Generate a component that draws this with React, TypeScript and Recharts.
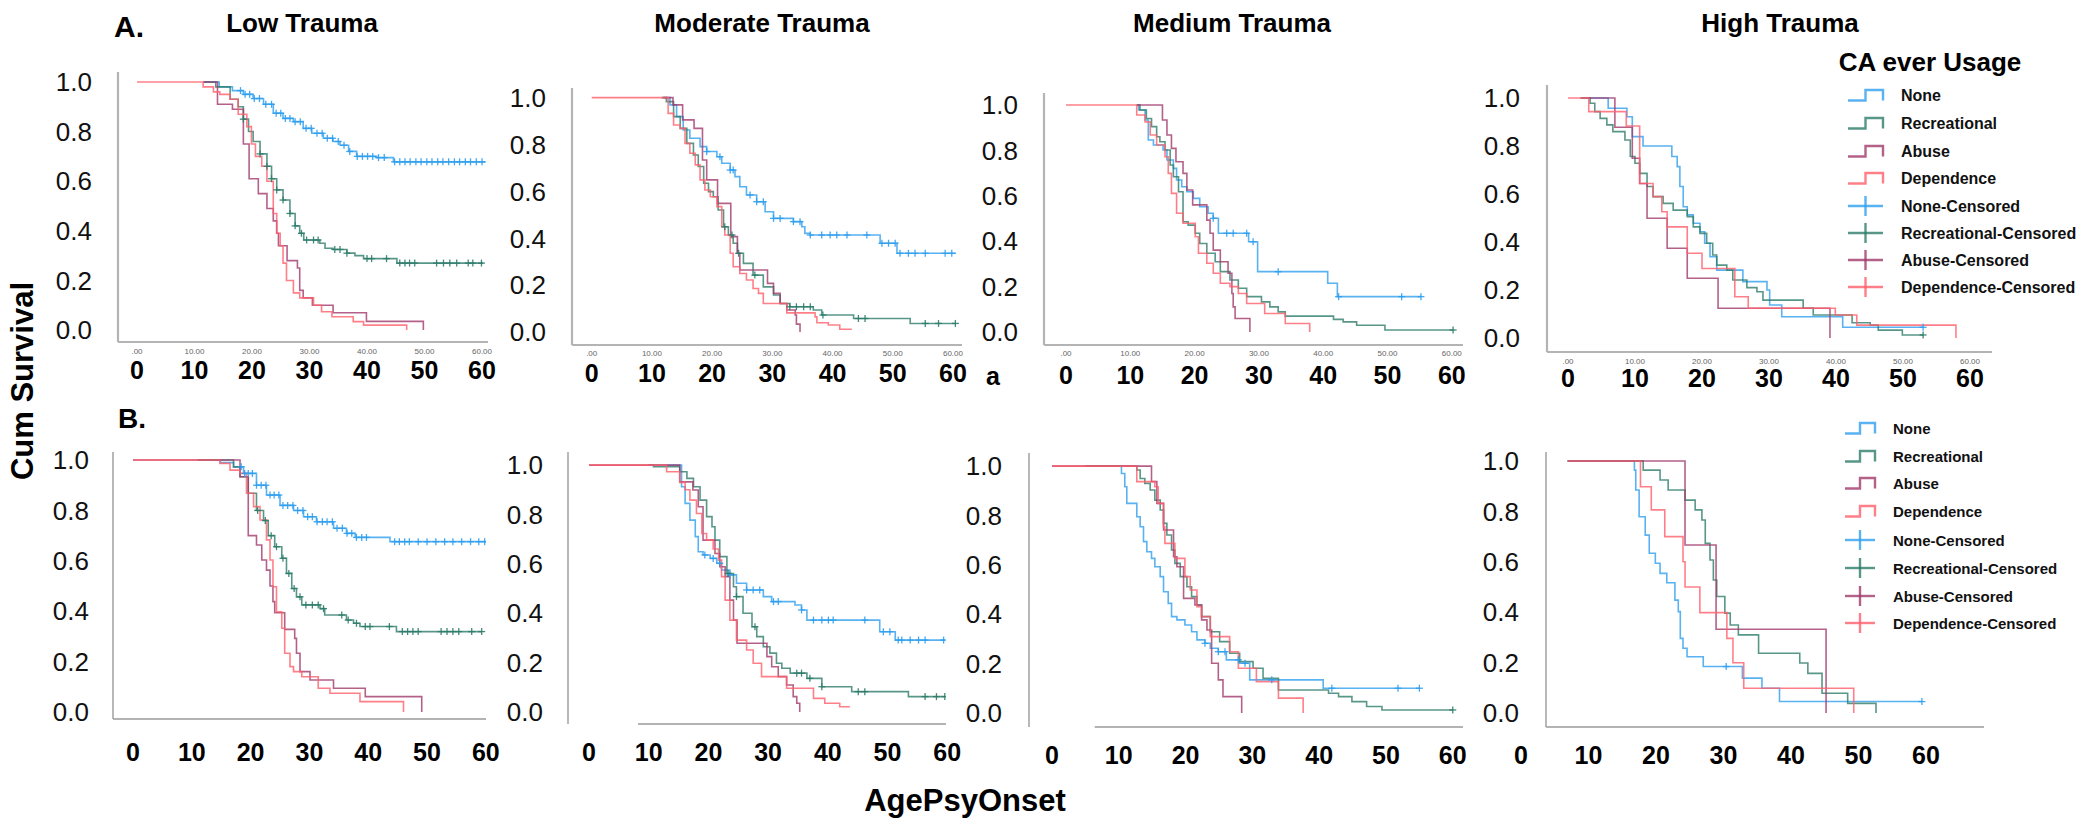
import React from 'react';
import { ComposedChart, Line, Scatter, XAxis, YAxis, ReferenceLine } from 'recharts';

const FONT = '"Liberation Sans", Arial, Helvetica, sans-serif';
const C_NONE = '#2f9fee';
const C_REC = '#2e7c6a';
const C_ABUSE = '#a03a6b';
const C_DEP = '#ff5f6b';

const xTickValues = [0, 10, 20, 30, 40, 50, 60];
const yTickValues = [0, 0.2, 0.4, 0.6, 0.8, 1.0];
const panelTitles = ['Low Trauma', 'Moderate Trauma', 'Medium Trauma', 'High Trauma'];
const legendLabels = ['None', 'Recreational', 'Abuse', 'Dependence', 'None-Censored', 'Recreational-Censored', 'Abuse-Censored', 'Dependence-Censored'];

// ---------- A. Low Trauma ----------
const a1NoneAge = [11.6, 14.3, 16.6, 18.5, 20.2, 22.0, 23.7, 25.4, 27.2, 28.9, 30.4, 32.4, 34.1, 35.3, 36.8, 38.2, 41.7, 44.6, 60.6];
const a1NoneSurv = [1, 0.98, 0.965, 0.95, 0.933, 0.91, 0.874, 0.853, 0.84, 0.813, 0.793, 0.773, 0.76, 0.745, 0.72, 0.70, 0.695, 0.678, 0.678];
const a1NoneCens = [18.0, 18.8, 19.6, 20.4, 21.3, 22.4, 23.4, 24.2, 25.0, 25.8, 26.6, 27.5, 28.4, 29.4, 30.3, 31.3, 32.2, 33.1, 34.0, 35.0, 36.0, 37.0, 38.3, 39.2, 40.1, 41.0, 42.0, 43.0, 44.8, 45.7, 46.6, 47.5, 48.5, 49.4, 50.4, 51.3, 52.3, 53.2, 54.2, 55.2, 56.1, 57.1, 58.0, 59.0, 60.0];
const a1RecAge = [11.6, 13.7, 16.2, 17.6, 18.5, 19.4, 20.2, 21.4, 22.6, 23.4, 24.3, 25.4, 26.6, 27.5, 28.3, 29.0, 31.8, 32.7, 34.1, 36.5, 37.9, 39.4, 45.2, 60.2];
const a1RecSurv = [1, 0.98, 0.93, 0.90, 0.85, 0.80, 0.76, 0.71, 0.66, 0.61, 0.565, 0.524, 0.47, 0.42, 0.39, 0.363, 0.35, 0.33, 0.325, 0.31, 0.30, 0.288, 0.27, 0.27];
const a1RecCens = [18.5, 21.4, 22.6, 23.4, 24.3, 25.4, 26.6, 27.5, 28.6, 29.5, 30.7, 31.5, 34.4, 35.3, 36.5, 40.0, 40.8, 43.4, 45.7, 46.6, 47.4, 48.3, 52.1, 53.3, 54.4, 55.6, 57.6, 58.4, 59.9];
const a1AbuseAge = [11.5, 14.0, 16.6, 18.5, 19.5, 21.1, 22.6, 23.7, 24.3, 24.6, 26.1, 27.9, 28.3, 28.9, 30.5, 34.1, 39.9, 49.8];
const a1AbuseSurv = [1, 0.91, 0.89, 0.75, 0.61, 0.55, 0.49, 0.44, 0.39, 0.34, 0.28, 0.25, 0.16, 0.13, 0.10, 0.07, 0.035, 0];
const a1DepAge = [0, 11.5, 13.3, 14.4, 16.2, 17.6, 19.1, 19.9, 20.6, 21.7, 22.6, 23.7, 24.3, 24.9, 25.4, 26.0, 27.2, 28.3, 30.7, 32.1, 33.9, 37.6, 39.4, 46.9];
const a1DepSurv = [1, 0.98, 0.96, 0.95, 0.93, 0.87, 0.82, 0.75, 0.70, 0.66, 0.60, 0.47, 0.39, 0.34, 0.27, 0.20, 0.15, 0.13, 0.10, 0.074, 0.054, 0.034, 0.02, 0];

// ---------- A. Moderate Trauma ----------
const a2NoneAge = [11.9, 13.0, 14.1, 15.2, 16.3, 18.0, 19.1, 20.8, 21.6, 23.0, 23.8, 24.6, 25.7, 27.4, 28.8, 30.2, 33.5, 34.9, 35.4, 36.3, 47.9, 50.7, 60.5];
const a2NoneSurv = [1, 0.969, 0.919, 0.862, 0.827, 0.791, 0.77, 0.748, 0.72, 0.691, 0.663, 0.62, 0.585, 0.556, 0.513, 0.485, 0.471, 0.449, 0.421, 0.414, 0.379, 0.336, 0.336];
const a2NoneCens = [19.1, 21.3, 23.0, 23.5, 26.3, 27.4, 28.5, 30.2, 31.3, 33.5, 34.6, 36.3, 38.2, 39.6, 40.7, 42.4, 45.7, 48.2, 49.3, 50.4, 51.2, 52.6, 53.7, 55.4, 58.7, 59.8];
const a2RecAge = [11.6, 12.4, 13.6, 14.7, 15.8, 16.9, 17.7, 18.6, 19.4, 20.2, 21.0, 21.9, 22.7, 23.5, 24.2, 25.2, 26.8, 28.5, 30.2, 31.3, 32.9, 36.8, 38.2, 43.5, 52.9, 60.5];
const a2RecSurv = [1, 0.983, 0.919, 0.869, 0.805, 0.755, 0.706, 0.635, 0.599, 0.577, 0.521, 0.449, 0.414, 0.379, 0.336, 0.293, 0.243, 0.193, 0.158, 0.122, 0.108, 0.094, 0.073, 0.058, 0.037, 0.037];
const a2RecCens = [22.1, 23.3, 24.4, 27.1, 32.9, 34.0, 35.2, 36.3, 38.4, 44.3, 45.4, 55.4, 57.6, 60.4];
const a2AbuseAge = [11.9, 13.5, 15.1, 17.0, 18.4, 19.1, 20.9, 23.1, 24.2, 24.6, 29.2, 30.2, 31.3, 32.4, 33.8, 34.0, 34.6];
const a2AbuseSurv = [1, 0.969, 0.905, 0.869, 0.734, 0.649, 0.549, 0.407, 0.336, 0.265, 0.208, 0.165, 0.122, 0.094, 0.073, 0.034, 0];
const a2DepAge = [0, 12.7, 13.6, 14.7, 15.5, 16.3, 17.2, 18.0, 18.8, 19.7, 20.8, 21.6, 22.1, 23.0, 23.5, 24.6, 25.7, 26.8, 27.7, 28.5, 32.4, 37.1, 37.4, 39.3, 41.2, 43.2];
const a2DepSurv = [1, 0.933, 0.883, 0.869, 0.805, 0.763, 0.713, 0.649, 0.606, 0.577, 0.535, 0.449, 0.414, 0.336, 0.279, 0.25, 0.222, 0.186, 0.165, 0.122, 0.082, 0.065, 0.04, 0.03, 0.012, 0.012];

// ---------- A. Medium Trauma ----------
const a3NoneAge = [11.0, 11.3, 12.3, 12.8, 13.6, 15.1, 15.7, 16.7, 17.2, 18.0, 18.8, 19.8, 20.8, 22.1, 22.9, 23.7, 28.4, 29.8, 40.7, 42.2, 55.2];
const a3NoneSurv = [1, 0.978, 0.934, 0.846, 0.824, 0.802, 0.758, 0.721, 0.67, 0.64, 0.618, 0.589, 0.552, 0.523, 0.501, 0.435, 0.398, 0.266, 0.215, 0.156, 0.156];
const a3NoneCens = [22.9, 25.0, 26.0, 28.1, 29.1, 33.0, 42.4, 52.2, 55.2];
const a3RecAge = [11.0, 11.5, 12.5, 13.3, 14.1, 14.6, 15.4, 16.2, 16.7, 17.5, 18.2, 19.0, 20.1, 20.8, 21.9, 23.2, 24.0, 25.5, 26.8, 28.1, 30.4, 31.7, 33.0, 34.1, 41.6, 43.1, 45.2, 49.6, 60.2];
const a3RecSurv = [1, 0.978, 0.941, 0.905, 0.86, 0.838, 0.802, 0.736, 0.684, 0.618, 0.486, 0.471, 0.435, 0.39, 0.347, 0.31, 0.266, 0.229, 0.193, 0.156, 0.133, 0.111, 0.089, 0.07, 0.056, 0.045, 0.03, 0.009, 0.009];
const a3RecCens = [60.2];
const a3AbuseAge = [11.0, 15.0, 15.7, 16.4, 17.1, 18.2, 18.8, 19.7, 21.9, 22.4, 22.9, 24.0, 25.2, 25.8, 26.0, 26.3, 28.6];
const a3AbuseSurv = [1, 0.934, 0.868, 0.809, 0.75, 0.699, 0.626, 0.56, 0.493, 0.435, 0.361, 0.31, 0.259, 0.17, 0.111, 0.06, 0];
const a3DepAge = [0, 11.0, 12.3, 13.1, 14.1, 15.4, 15.9, 16.4, 17.2, 18.2, 20.1, 20.6, 21.9, 22.9, 24.0, 25.5, 26.8, 28.1, 30.9, 34.1, 37.9];
const a3DepSurv = [1, 0.956, 0.926, 0.868, 0.824, 0.772, 0.699, 0.611, 0.523, 0.479, 0.42, 0.347, 0.303, 0.259, 0.215, 0.2, 0.17, 0.126, 0.082, 0.038, 0];

// ---------- A. High Trauma ----------
const a4NoneAge = [3.0, 6.0, 8.8, 9.6, 11.2, 15.5, 16.3, 16.7, 17.2, 17.8, 18.7, 19.7, 20.4, 21.2, 22.2, 26.1, 29.7, 30.1, 31.9, 41.0, 53.0];
const a4NoneSurv = [1, 0.957, 0.922, 0.839, 0.8, 0.756, 0.714, 0.631, 0.547, 0.513, 0.478, 0.443, 0.395, 0.339, 0.283, 0.235, 0.2, 0.138, 0.089, 0.045, 0.045];
const a4NoneCens = [53.0];
const a4RecAge = [1.8, 3.3, 4.0, 4.8, 5.8, 6.7, 8.5, 9.3, 10.0, 10.7, 11.8, 12.7, 14.2, 15.7, 17.8, 18.7, 19.7, 20.7, 21.6, 22.2, 23.7, 24.6, 26.7, 28.2, 29.1, 35.1, 36.6, 42.4, 45.1, 46.3, 49.9, 53.0];
const a4RecSurv = [1, 0.978, 0.943, 0.915, 0.888, 0.86, 0.825, 0.756, 0.728, 0.686, 0.631, 0.589, 0.561, 0.533, 0.506, 0.463, 0.436, 0.395, 0.346, 0.304, 0.283, 0.242, 0.21, 0.193, 0.158, 0.124, 0.096, 0.064, 0.054, 0.033, 0.013, 0.013];
const a4RecCens = [53.0];
const a4AbuseAge = [2.0, 7.0, 9.6, 10.7, 11.8, 14.8, 17.8, 22.4, 39.1];
const a4AbuseSurv = [1, 0.878, 0.749, 0.644, 0.499, 0.374, 0.249, 0.124, 0];
const a4DepAge = [0, 3.1, 8.7, 10.7, 12.7, 14.0, 14.8, 17.8, 20.0, 24.9, 26.9, 39.9, 43.1, 57.9];
const a4DepSurv = [1, 0.943, 0.883, 0.644, 0.589, 0.526, 0.463, 0.353, 0.29, 0.172, 0.124, 0.096, 0.054, 0];

// ---------- B. Low Trauma ----------
const b1NoneAge = [11.0, 14.8, 17.1, 18.8, 21.0, 22.7, 25.0, 27.3, 29.0, 31.2, 34.1, 36.3, 37.8, 43.7, 60.0];
const b1NoneSurv = [1, 0.99, 0.973, 0.947, 0.90, 0.861, 0.82, 0.80, 0.775, 0.755, 0.729, 0.709, 0.693, 0.676, 0.676];
const b1NoneCens = [18.4, 19.0, 19.6, 20.3, 21.0, 21.8, 22.6, 23.3, 24.0, 24.8, 25.5, 26.3, 27.2, 28.0, 28.9, 29.7, 30.5, 31.3, 32.2, 33.0, 33.9, 34.7, 35.6, 36.4, 37.2, 38.0, 38.9, 39.7, 44.5, 45.3, 46.2, 47.0, 48.5, 50.0, 51.5, 53.0, 54.4, 55.9, 57.4, 58.8, 59.8];
const b1RecAge = [11.0, 17.1, 18.2, 19.6, 21.0, 22.2, 23.0, 24.1, 25.3, 26.1, 27.0, 27.8, 28.7, 31.8, 32.6, 36.3, 37.5, 38.6, 44.8, 59.3];
const b1RecSurv = [1, 0.973, 0.934, 0.868, 0.80, 0.76, 0.70, 0.656, 0.61, 0.55, 0.49, 0.457, 0.425, 0.41, 0.385, 0.365, 0.352, 0.339, 0.319, 0.319];
const b1RecCens = [21.2, 22.5, 23.5, 24.4, 25.5, 26.5, 27.4, 28.4, 29.4, 30.5, 31.5, 32.4, 35.5, 36.6, 38.0, 39.5, 40.3, 43.6, 45.8, 46.7, 47.6, 48.5, 52.4, 53.4, 54.4, 55.4, 57.6, 59.3];
const b1AbuseAge = [0, 18.2, 19.6, 21.0, 21.9, 22.7, 23.3, 23.8, 24.1, 25.8, 27.5, 27.8, 28.4, 30.1, 34.1, 39.5, 49.1];
const b1AbuseSurv = [1, 0.934, 0.70, 0.663, 0.603, 0.563, 0.50, 0.438, 0.394, 0.328, 0.292, 0.233, 0.16, 0.127, 0.094, 0.061, 0];
const b1DepAge = [0, 14.8, 16.5, 18.2, 19.3, 20.5, 21.6, 22.7, 23.3, 23.8, 24.4, 25.3, 25.8, 26.7, 27.3, 28.7, 31.5, 33.5, 38.6, 46.0];
const b1DepSurv = [1, 0.987, 0.96, 0.947, 0.868, 0.815, 0.762, 0.683, 0.603, 0.497, 0.398, 0.332, 0.233, 0.18, 0.16, 0.14, 0.094, 0.074, 0.041, 0];

// ---------- B. Moderate Trauma ----------
const b2NoneAge = [10.0, 15.5, 16.1, 16.9, 17.8, 18.3, 19.1, 20.3, 21.4, 22.2, 23.6, 24.7, 26.4, 29.2, 30.6, 34.5, 35.6, 36.5, 48.7, 51.3, 59.6];
const b2NoneSurv = [1, 0.912, 0.845, 0.777, 0.71, 0.649, 0.636, 0.622, 0.602, 0.575, 0.555, 0.521, 0.494, 0.467, 0.447, 0.433, 0.413, 0.372, 0.325, 0.291, 0.291];
const b2NoneCens = [19.4, 20.8, 21.9, 23.6, 26.4, 27.5, 28.6, 30.9, 31.7, 35.6, 37.6, 39.0, 40.1, 40.9, 46.2, 49.3, 50.4, 51.8, 52.4, 53.8, 55.2, 56.3, 59.4];
const b2RecAge = [10.0, 10.8, 15.2, 16.4, 17.5, 18.6, 19.7, 20.6, 21.1, 21.9, 23.1, 24.2, 24.7, 25.8, 27.3, 28.1, 29.2, 30.3, 31.4, 32.3, 33.7, 36.5, 39.0, 44.0, 53.5, 59.6];
const b2RecSurv = [1, 0.993, 0.973, 0.946, 0.912, 0.858, 0.791, 0.75, 0.696, 0.629, 0.561, 0.507, 0.467, 0.40, 0.345, 0.305, 0.264, 0.238, 0.197, 0.177, 0.157, 0.136, 0.102, 0.082, 0.062, 0.062];
const b2RecCens = [23.3, 24.7, 27.8, 34.8, 35.6, 37.0, 39.0, 45.1, 46.2, 56.3, 58.2, 59.6];
const b2AbuseAge = [0, 15.2, 17.4, 18.3, 19.1, 21.1, 21.9, 22.8, 23.6, 24.2, 24.8, 29.8, 30.6, 31.7, 33.1, 34.2, 34.8, 35.3];
const b2AbuseSurv = [1, 0.932, 0.899, 0.831, 0.696, 0.642, 0.588, 0.548, 0.453, 0.372, 0.278, 0.224, 0.183, 0.143, 0.109, 0.062, 0.035, 0];
const b2DepAge = [0, 13.0, 15.2, 16.1, 16.9, 18.0, 18.9, 19.7, 20.8, 21.7, 22.2, 22.8, 23.6, 24.7, 26.4, 27.5, 28.9, 33.1, 37.6, 39.5, 42.0, 43.7];
const b2DepSurv = [1, 0.973, 0.93, 0.9, 0.858, 0.804, 0.723, 0.696, 0.66, 0.615, 0.548, 0.453, 0.372, 0.291, 0.251, 0.197, 0.143, 0.096, 0.055, 0.035, 0.021, 0.021];

// ---------- B. Medium Trauma ----------
const b3NoneAge = [5.0, 10.4, 10.9, 11.2, 12.7, 13.2, 13.7, 14.2, 14.9, 15.4, 16.2, 16.7, 17.4, 17.9, 18.7, 19.9, 20.9, 21.7, 22.9, 23.7, 24.9, 26.1, 28.1, 29.6, 40.6, 55.0];
const b3NoneSurv = [1, 0.97, 0.916, 0.849, 0.795, 0.754, 0.694, 0.653, 0.626, 0.592, 0.552, 0.491, 0.444, 0.39, 0.377, 0.356, 0.329, 0.296, 0.282, 0.262, 0.248, 0.215, 0.201, 0.134, 0.1, 0.1];
const b3NoneCens = [22.9, 24.9, 25.9, 27.9, 28.9, 32.9, 41.9, 51.8, 55.0];
const b3RecAge = [5.0, 12.7, 13.2, 13.9, 14.7, 15.4, 16.2, 16.7, 17.2, 17.9, 18.4, 19.2, 20.2, 20.9, 21.7, 22.4, 23.7, 25.1, 26.6, 28.1, 30.1, 31.6, 33.9, 41.4, 42.9, 44.9, 47.1, 49.4, 60.0];
const b3RecSurv = [1, 0.984, 0.95, 0.93, 0.903, 0.862, 0.822, 0.768, 0.721, 0.66, 0.606, 0.552, 0.511, 0.471, 0.437, 0.39, 0.329, 0.289, 0.242, 0.208, 0.181, 0.14, 0.093, 0.08, 0.066, 0.046, 0.026, 0.012, 0.012];
const b3RecCens = [60.0];
const b3AbuseAge = [0, 14.9, 15.7, 16.7, 18.2, 18.7, 19.7, 21.4, 22.4, 23.2, 23.9, 24.9, 25.6, 28.4];
const b3AbuseSurv = [1, 0.937, 0.849, 0.741, 0.633, 0.592, 0.464, 0.437, 0.377, 0.336, 0.201, 0.134, 0.066, 0];
const b3DepAge = [0, 12.7, 15.4, 15.9, 16.7, 16.9, 18.4, 19.9, 20.7, 21.7, 22.4, 23.7, 26.6, 27.9, 30.6, 33.9, 37.6];
const b3DepSurv = [1, 0.937, 0.916, 0.849, 0.754, 0.687, 0.626, 0.552, 0.498, 0.43, 0.39, 0.309, 0.248, 0.181, 0.127, 0.06, 0];

// ---------- B. High Trauma ----------
const b4NoneAge = [6.9, 16.8, 17.0, 17.5, 18.4, 19.0, 19.9, 20.6, 21.6, 22.8, 23.3, 23.6, 24.0, 24.6, 27.0, 32.8, 35.7, 38.3, 59.4];
const b4NoneSurv = [1, 0.964, 0.885, 0.779, 0.706, 0.634, 0.594, 0.554, 0.517, 0.448, 0.402, 0.296, 0.257, 0.223, 0.184, 0.138, 0.098, 0.045, 0.045];
const b4NoneCens = [30.4, 59.4];
const b4RecAge = [6.9, 18.1, 20.6, 21.8, 24.3, 25.8, 26.8, 27.3, 28.0, 28.5, 29.0, 30.2, 31.0, 32.2, 35.2, 41.3, 42.5, 44.6, 48.4, 52.6];
const b4RecSurv = [1, 0.964, 0.925, 0.885, 0.845, 0.806, 0.766, 0.673, 0.607, 0.528, 0.462, 0.396, 0.349, 0.31, 0.237, 0.198, 0.157, 0.078, 0.038, 0];
const b4AbuseAge = [6.9, 24.3, 28.9, 45.2];
const b4AbuseSurv = [1, 0.667, 0.332, 0];
const b4DepAge = [6.9, 17.7, 19.3, 21.3, 24.0, 24.3, 26.5, 30.5, 31.4, 33.0, 49.3];
const b4DepSurv = [1, 0.898, 0.806, 0.70, 0.60, 0.50, 0.398, 0.296, 0.199, 0.098, 0];

type Curve = { age: number[]; surv: number[]; cens?: number[]; color: string };

function stepAt(ages: number[], surv: number[], a: number) {
  let v = surv[0];
  for (let i = 0; i < ages.length; i++) if (ages[i] <= a) v = surv[i];
  return v;
}

function curves(n: [number[], number[], number[]?], r: [number[], number[], number[]?], ab: [number[], number[]], d: [number[], number[]]): Curve[] {
  return [
    { age: n[0], surv: n[1], cens: n[2], color: C_NONE },
    { age: r[0], surv: r[1], cens: r[2], color: C_REC },
    { age: ab[0], surv: ab[1], color: C_ABUSE },
    { age: d[0], surv: d[1], color: C_DEP },
  ];
}

type PanelCfg = {
  key: string;
  plot: [number, number, number, number];
  xDom: [number, number];
  yDom: [number, number];
  rowA: boolean;
  bigDy: number;
  smallDy?: number;
  yMargin: number;
  xSeg?: [number, number];
  ySegX?: number;
  data: Curve[];
};

const panels: PanelCfg[] = [
  { key: 'A1', plot: [118, 72, 488, 342], xDom: [-3.3, 61.04], yDom: [-0.048, 1.04], rowA: true, bigDy: 28, smallDy: 9, yMargin: 26,
    data: curves([a1NoneAge, a1NoneSurv, a1NoneCens], [a1RecAge, a1RecSurv, a1RecCens], [a1AbuseAge, a1AbuseSurv], [a1DepAge, a1DepSurv]) },
  { key: 'A2', plot: [572, 88, 962, 345], xDom: [-3.27, 61.5], yDom: [-0.055, 1.041], rowA: true, bigDy: 28, smallDy: 8, yMargin: 26,
    data: curves([a2NoneAge, a2NoneSurv, a2NoneCens], [a2RecAge, a2RecSurv, a2RecCens], [a2AbuseAge, a2AbuseSurv], [a2DepAge, a2DepSurv]) },
  { key: 'A3', plot: [1044, 93, 1463, 345], xDom: [-3.42, 61.74], yDom: [-0.057, 1.053], rowA: true, bigDy: 30, smallDy: 8, yMargin: 26,
    data: curves([a3NoneAge, a3NoneSurv, a3NoneCens], [a3RecAge, a3RecSurv, a3RecCens], [a3AbuseAge, a3AbuseSurv], [a3DepAge, a3DepSurv]) },
  { key: 'A4', plot: [1547, 85, 1992, 352], xDom: [-3.13, 63.28], yDom: [-0.058, 1.054], rowA: true, bigDy: 26, smallDy: 9, yMargin: 27,
    data: curves([a4NoneAge, a4NoneSurv, a4NoneCens], [a4RecAge, a4RecSurv, a4RecCens], [a4AbuseAge, a4AbuseSurv], [a4DepAge, a4DepSurv]) },
  { key: 'B1', plot: [113, 452, 486, 719], xDom: [-3.4, 60.03], yDom: [-0.028, 1.032], rowA: false, bigDy: 33, yMargin: 24,
    data: curves([b1NoneAge, b1NoneSurv, b1NoneCens], [b1RecAge, b1RecSurv, b1RecCens], [b1AbuseAge, b1AbuseSurv], [b1DepAge, b1DepSurv]) },
  { key: 'B2', plot: [568, 452, 946, 724], xDom: [-3.52, 59.8], yDom: [-0.049, 1.053], rowA: false, bigDy: 28, yMargin: 25, xSeg: [8.2, 59.8],
    data: curves([b2NoneAge, b2NoneSurv, b2NoneCens], [b2RecAge, b2RecSurv, b2RecCens], [b2AbuseAge, b2AbuseSurv], [b2DepAge, b2DepSurv]) },
  { key: 'B3', plot: [1029, 453, 1463, 727], xDom: [-3.44, 61.53], yDom: [-0.057, 1.053], rowA: false, bigDy: 28, yMargin: 27, xSeg: [6.4, 61.53],
    data: curves([b3NoneAge, b3NoneSurv, b3NoneCens], [b3RecAge, b3RecSurv, b3RecCens], [b3AbuseAge, b3AbuseSurv], [b3DepAge, b3DepSurv]) },
  { key: 'B4', plot: [1519, 452, 1984, 727], xDom: [-0.3, 68.6], yDom: [-0.056, 1.036], rowA: false, bigDy: 28, yMargin: 0, xSeg: [3.7, 68.6], ySegX: 3.7,
    data: curves([b4NoneAge, b4NoneSurv, b4NoneCens], [b4RecAge, b4RecSurv], [b4AbuseAge, b4AbuseSurv], [b4DepAge, b4DepSurv]) },
];

const YW = 120;
const TM = 22;
const RM = 34;
const XH = 60;

function Panel({ cfg }: { cfg: PanelCfg }) {
  const [L, T, R, B] = cfg.plot;
  const axisColor = cfg.rowA ? '#b4b4b4' : '#9a9a9a';
  const axisW = cfg.rowA ? 2.2 : 1.4;
  const xTick = (p: any) => {
    const v = p.payload.value;
    return (
      <g>
        {cfg.rowA && (
          <text x={p.x} y={p.y + (cfg.smallDy || 9)} textAnchor="middle" dominantBaseline="central" fontSize={8} fill="#666" fontFamily={FONT}>
            {v === 0 ? '.00' : v.toFixed(2)}
          </text>
        )}
        <text x={p.x} y={p.y + cfg.bigDy} textAnchor="middle" dominantBaseline="central" fontSize={25} fontWeight="bold" fill="#000" fontFamily={FONT}>
          {v}
        </text>
      </g>
    );
  };
  return (
    <div style={{ position: 'absolute', left: L - YW, top: T - TM }}>
      <ComposedChart width={YW + (R - L) + RM} height={TM + (B - T) + XH} margin={{ top: TM, right: RM, bottom: 0, left: 0 }}>
        <XAxis type="number" dataKey="x" domain={cfg.xDom} ticks={xTickValues} interval={0} allowDataOverflow
          tickSize={0} tickMargin={0} tickLine={false} height={XH}
          axisLine={cfg.xSeg ? false : { stroke: axisColor, strokeWidth: axisW }} tick={xTick} />
        <YAxis type="number" dataKey="y" domain={cfg.yDom} ticks={yTickValues} interval={0} allowDataOverflow
          tickSize={0} tickMargin={cfg.yMargin} tickLine={false} width={YW}
          axisLine={cfg.ySegX !== undefined ? false : { stroke: axisColor, strokeWidth: axisW }}
          tickFormatter={(v: number) => v.toFixed(1)}
          tick={{ fontSize: 26, fill: '#111', fontFamily: FONT }} />
        {cfg.xSeg && (
          <ReferenceLine ifOverflow="visible" stroke={axisColor} strokeWidth={axisW}
            segment={[{ x: cfg.xSeg[0], y: cfg.yDom[0] }, { x: cfg.xSeg[1], y: cfg.yDom[0] }]} />
        )}
        {cfg.ySegX !== undefined && (
          <ReferenceLine ifOverflow="visible" stroke={axisColor} strokeWidth={axisW}
            segment={[{ x: cfg.ySegX, y: cfg.yDom[0] }, { x: cfg.ySegX, y: cfg.yDom[1] }]} />
        )}
        {cfg.data.map((c, i) => (
          <Line key={'l' + i} data={c.age.map((a, j) => ({ x: a, y: c.surv[j] }))} dataKey="y" type="stepAfter"
            stroke={c.color} strokeWidth={1.6} strokeOpacity={0.8} dot={false} activeDot={false} isAnimationActive={false} />
        ))}
        {cfg.data.filter((c) => c.cens && c.cens.length).map((c, i) => (
          <Scatter key={'s' + i} data={(c.cens as number[]).map((a) => ({ x: a, y: stepAt(c.age, c.surv, a) }))} dataKey="y"
            isAnimationActive={false}
            shape={(p: any) => (
              <g>
                <line x1={p.cx - 3.5} x2={p.cx + 3.5} y1={p.cy} y2={p.cy} stroke={c.color} strokeWidth={1.3} strokeOpacity={0.9} />
                <line x1={p.cx} x2={p.cx} y1={p.cy - 3.5} y2={p.cy + 3.5} stroke={c.color} strokeWidth={1.3} strokeOpacity={0.9} />
              </g>
            )} />
        ))}
      </ComposedChart>
    </div>
  );
}

const legendColors = [C_NONE, C_REC, C_ABUSE, C_DEP, C_NONE, C_REC, C_ABUSE, C_DEP];

function LegendBlock({ x0, textX, rows, fontSize }: { x0: number; textX: number; rows: number[]; fontSize: number }) {
  const w = textX - x0 - 18;
  return (
    <g>
      {legendLabels.map((lab, i) => {
        const y = rows[i];
        const col = legendColors[i];
        return (
          <g key={lab}>
            {i < 4 ? (
              <path d={`M ${x0} ${y + 5.5} H ${x0 + w / 2} V ${y - 5} H ${x0 + w} V ${y + 5.5}`} fill="none" stroke={col} strokeWidth={2.4} strokeOpacity={0.8} />
            ) : (
              <g stroke={col} strokeWidth={2.4} strokeOpacity={0.8}>
                <line x1={x0} x2={x0 + w} y1={y} y2={y} />
                <line x1={x0 + w / 2} x2={x0 + w / 2} y1={y - 10} y2={y + 10} />
              </g>
            )}
            <text x={textX} y={y} dominantBaseline="central" fontSize={fontSize} fontWeight="bold" fill="#111" fontFamily={FONT}>{lab}</text>
          </g>
        );
      })}
    </g>
  );
}

const titleCenter = [302, 762, 1232, 1780];

export default function App() {
  return (
    <div style={{ position: 'absolute', left: 0, top: 0, width: 2083, height: 822, background: '#fff', overflow: 'hidden' }}>
      {panels.map((p) => (
        <Panel key={p.key} cfg={p} />
      ))}
      <svg width={2083} height={822} style={{ position: 'absolute', left: 0, top: 0, pointerEvents: 'none' }}>
        <text x={114} y={37} fontSize={30} fontWeight="bold" fontFamily={FONT} fill="#000">A.</text>
        <text x={118} y={428} fontSize={28} fontWeight="bold" fontFamily={FONT} fill="#000">B.</text>
        {panelTitles.map((t, i) => (
          <text key={t} x={titleCenter[i]} y={32} textAnchor="middle" fontSize={26} fontWeight="bold" fontFamily={FONT} fill="#000">{t}</text>
        ))}
        <text transform="translate(22,381) rotate(-90)" textAnchor="middle" dominantBaseline="central" fontSize={31} fontWeight="bold" fontFamily={FONT} fill="#000">Cum Survival</text>
        <text x={965} y={811} textAnchor="middle" fontSize={31} fontWeight="bold" fontFamily={FONT} fill="#000">AgePsyOnset</text>
        <text x={993} y={385} textAnchor="middle" fontSize={25} fontWeight="bold" fontFamily={FONT} fill="#000">a</text>
        <text x={1930} y={71} textAnchor="middle" fontSize={26} fontWeight="bold" fontFamily={FONT} fill="#000">CA ever Usage</text>
        <LegendBlock x0={1848} textX={1901} rows={[95, 123, 151, 178, 206, 233, 260, 287]} fontSize={16} />
        <LegendBlock x0={1845} textX={1893} rows={[428, 456, 483, 511, 540, 568, 596, 623]} fontSize={15} />
      </svg>
    </div>
  );
}
